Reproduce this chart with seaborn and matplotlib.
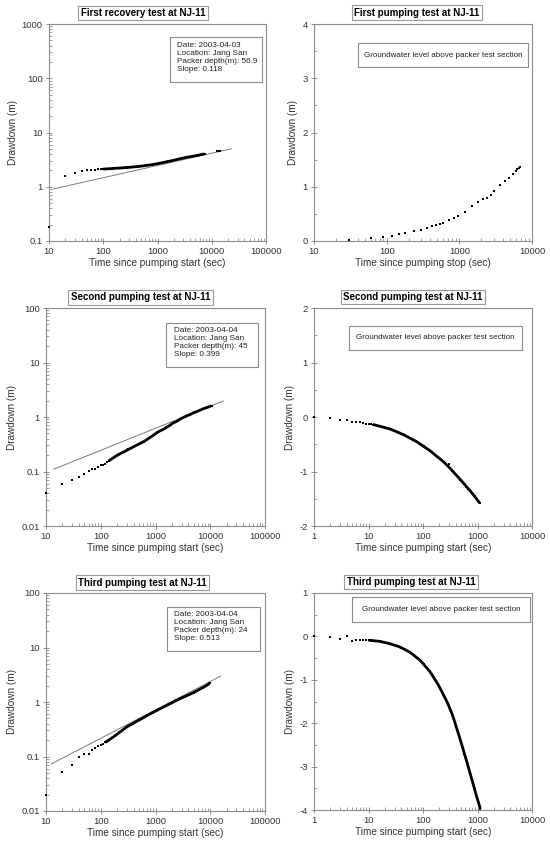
import matplotlib
matplotlib.use("Agg")
import matplotlib.pyplot as plt
import seaborn as sns
from matplotlib.ticker import FixedLocator, FuncFormatter, LogLocator, MultipleLocator, NullFormatter
from matplotlib.patches import Rectangle

# ---------------- data ----------------
titles = ["First recovery test at NJ-11", "First pumping test at NJ-11",
          "Second pumping test at NJ-11", "Second pumping test at NJ-11",
          "Third pumping test at NJ-11", "Third pumping test at NJ-11"]
xlabels = ["Time since pumping start (sec)", "Time since pumping stop (sec)",
           "Time since pumping start (sec)", "Time since pumping start (sec)",
           "Time since pumping start (sec)", "Time since pumping start (sec)"]
ylabel = "Drawdown (m)"
info1 = ["Date: 2003-04-03", "Location: Jang San", "Packer depth(m): 56.9", "Slope: 0.118"]
info3 = ["Date: 2003-04-04", "Location: Jang San", "Packer depth(m): 45", "Slope: 0.399"]
info5 = ["Date: 2003-04-04", "Location: Jang San", "Packer depth(m): 24", "Slope: 0.513"]
gw_note = "Groundwater level above packer test section"

t_rec1 = [10, 20, 30, 40, 50, 60, 70, 80, 90, 100, 110, 120, 130, 140, 150, 160, 180, 200, 220, 240,
          260, 280, 300, 330, 360, 400, 440, 480, 520, 570, 620, 680, 740, 800, 870, 950, 1030, 1120,
          1220, 1330, 1450, 1580, 1720, 1870, 2040, 2220, 2420, 2640, 2880, 3140, 3420, 3730, 4060,
          4420, 4820, 5250, 5720, 6230, 6790, 7400, 12400, 13000, 13600, 14200]
s_rec1 = [0.18, 1.61, 1.83, 1.95, 2.00, 2.03, 2.06, 2.08, 2.10, 2.12, 2.13, 2.14, 2.15, 2.16, 2.17, 2.18,
          2.20, 2.21, 2.23, 2.24, 2.26, 2.27, 2.28, 2.30, 2.32, 2.34, 2.36, 2.39, 2.41, 2.44, 2.47, 2.50,
          2.53, 2.56, 2.60, 2.64, 2.68, 2.73, 2.77, 2.82, 2.87, 2.93, 2.98, 3.04, 3.10, 3.16, 3.23, 3.29,
          3.36, 3.42, 3.48, 3.54, 3.59, 3.64, 3.70, 3.76, 3.83, 3.90, 3.97, 4.05, 4.48, 4.50, 4.50, 4.52]
dense_rec1 = (100, 7400)
fit1_t = [11.9, 22860]
fit1_s = [0.908, 5.0]

t_pump1 = [30, 60, 90, 120, 150, 180, 240, 300, 360, 420, 480, 540, 600, 720, 840, 960, 1200, 1500,
           1800, 2100, 2400, 2700, 3000, 3600, 4200, 4800, 5400, 6000, 6300, 6600, 6900]
s_pump1 = [0.025, 0.05, 0.08, 0.10, 0.12, 0.14, 0.19, 0.21, 0.245, 0.27, 0.29, 0.32, 0.34, 0.39, 0.43,
           0.47, 0.53, 0.64, 0.71, 0.77, 0.80, 0.85, 0.93, 1.03, 1.10, 1.17, 1.24, 1.29, 1.33, 1.34, 1.36]

t_pump2 = [10, 20, 30, 40, 50, 60, 70, 80, 90, 100, 110, 120, 130, 140, 150, 165, 180, 200, 220, 240,
           265, 290, 320, 350, 385, 420, 460, 510, 560, 610, 670, 740, 810, 890, 980, 1080, 1190, 1310,
           1440, 1580, 1740, 1910, 2100, 2310, 2540, 2800, 3080, 3390, 3730, 4100, 4510, 4960, 5460,
           6000, 6600, 7260, 7990, 8790, 9670, 10600]
s_pump2 = [0.04, 0.06, 0.069, 0.079, 0.089, 0.101, 0.109, 0.11, 0.122, 0.129, 0.133, 0.14, 0.151, 0.158,
           0.164, 0.175, 0.186, 0.198, 0.209, 0.219, 0.229, 0.241, 0.254, 0.266, 0.28, 0.293, 0.306,
           0.323, 0.339, 0.355, 0.375, 0.402, 0.427, 0.455, 0.486, 0.52, 0.553, 0.575, 0.605, 0.642,
           0.68, 0.725, 0.78, 0.81, 0.855, 0.91, 0.96, 1.005, 1.05, 1.09, 1.14, 1.20, 1.24, 1.29, 1.34,
           1.40, 1.45, 1.50, 1.55, 1.61]
dense_pump2 = (140, 10600)
fit2_t = [13.8, 17400]
fit2_s = [0.110, 1.97]

t_gw2 = [1, 2, 3, 4, 5, 6, 7, 8, 9, 10, 11, 12, 13, 14, 15, 16, 18, 20, 22, 24, 26, 28, 30, 33, 36, 40,
         44, 48, 52, 57, 62, 68, 74, 80, 87, 95, 103, 112, 122, 133, 145, 158, 172, 187, 204, 222, 242,
         264, 288, 314, 342, 373, 406, 443, 483, 527, 574, 626, 682, 744, 810, 884, 964, 1050, 1100]
s_gw2 = [0.0, -0.024, -0.05, -0.06, -0.085, -0.09, -0.10, -0.11, -0.12, -0.125, -0.132, -0.138, -0.145,
         -0.153, -0.161, -0.169, -0.182, -0.195, -0.206, -0.216, -0.228, -0.242, -0.254, -0.272, -0.287,
         -0.307, -0.325, -0.345, -0.364, -0.385, -0.404, -0.426, -0.445, -0.466, -0.491, -0.517, -0.541,
         -0.565, -0.590, -0.616, -0.645, -0.677, -0.707, -0.736, -0.767, -0.797, -0.829, -0.866, -0.903,
         -0.941, -0.982, -1.024, -1.065, -1.106, -1.148, -1.191, -1.233, -1.276, -1.318, -1.362, -1.408,
         -1.457, -1.506, -1.554, -1.58]
t_gw2_out = [300]
s_gw2_out = [-0.87]
dense_gw2 = (12, 1100)

t_pump3 = [10, 20, 30, 40, 50, 60, 70, 80, 90, 100, 110, 120, 130, 140, 150, 165, 180, 200, 220, 240,
           265, 290, 320, 350, 385, 420, 460, 510, 560, 610, 670, 740, 810, 890, 980, 1080, 1190, 1310,
           1440, 1580, 1740, 1910, 2100, 2310, 2540, 2800, 3080, 3390, 3730, 4100, 4510, 4960, 5460,
           6000, 6600, 7260, 7990, 8790, 9670, 10000]
s_pump3 = [0.02, 0.051, 0.071, 0.10, 0.112, 0.112, 0.133, 0.143, 0.153, 0.162, 0.172, 0.181, 0.19, 0.20,
           0.21, 0.224, 0.238, 0.258, 0.276, 0.295, 0.319, 0.342, 0.363, 0.382, 0.403, 0.423, 0.446,
           0.472, 0.497, 0.521, 0.55, 0.581, 0.61, 0.641, 0.676, 0.71, 0.746, 0.783, 0.822, 0.861, 0.904,
           0.948, 0.995, 1.045, 1.096, 1.151, 1.2, 1.253, 1.309, 1.365, 1.429, 1.493, 1.57, 1.652, 1.74,
           1.832, 1.928, 2.04, 2.19, 2.25]
dense_pump3 = (120, 9670)
fit3_t = [12.5, 15600]
fit3_s = [0.073, 3.0]

t_gw3 = [1, 2, 3, 4, 5, 6, 7, 8, 9, 10, 11, 12, 13, 14, 15, 16, 18, 20, 22, 24, 26, 28, 30, 33, 36, 40,
         44, 48, 52, 57, 62, 68, 74, 80, 87, 95, 103, 112, 122, 133, 145, 158, 172, 187, 204, 222, 242,
         264, 288, 314, 342, 373, 406, 443, 483, 527, 574, 626, 682, 744, 810, 884, 964, 1050, 1130]
s_gw3 = [0.0, -0.015, -0.07, 0.015, -0.106, -0.076, -0.076, -0.08, -0.08, -0.088, -0.093, -0.097, -0.102,
         -0.106, -0.110, -0.114, -0.127, -0.141, -0.153, -0.164, -0.177, -0.19, -0.202, -0.219, -0.235,
         -0.26, -0.287, -0.312, -0.336, -0.362, -0.396, -0.436, -0.472, -0.506, -0.543, -0.595, -0.645,
         -0.698, -0.752, -0.807, -0.877, -0.953, -1.027, -1.098, -1.186, -1.274, -1.367, -1.46, -1.56,
         -1.676, -1.79, -1.93, -2.08, -2.23, -2.38, -2.54, -2.70, -2.855, -3.02, -3.19, -3.35, -3.52,
         -3.69, -3.84, -3.98]
dense_gw3 = (10, 1130)

xt_a = [10, 100, 1000, 10000, 100000]
xt_b = [10, 100, 1000, 10000]
xt_c = [1, 10, 100, 1000, 10000]
yt_1 = [0.1, 1, 10, 100, 1000]
yt_2 = [0, 1, 2, 3, 4]
yt_3 = [0.01, 0.1, 1, 10, 100]
yt_4 = [-2, -1, 0, 1, 2]
yt_6 = [-4, -3, -2, -1, 0, 1]

# ---------------- style ----------------
sns.set_style("white")
plt.rcParams['font.family'] = ['Liberation Sans', 'DejaVu Sans']

W, H = 550, 844
fig = plt.figure(figsize=(W / 100, H / 100), dpi=100)
fig.patch.set_facecolor('white')

SPINE = '#8c8c8c'
TXT = '#333333'


def add_ax(l, t, r, b):
    return fig.add_axes([l / W, 1 - b / H, (r - l) / W, (b - t) / H])


fmt = FuncFormatter(lambda v, p: f"{v:g}")


def style(ax, xt, yt, ylog, xlabel):
    ax.set_xscale('log')
    ax.set_xlim(xt[0], xt[-1])
    ax.xaxis.set_major_locator(FixedLocator(xt))
    ax.xaxis.set_major_formatter(fmt)
    ax.xaxis.set_minor_locator(LogLocator(base=10, subs=range(2, 10), numticks=20))
    ax.xaxis.set_minor_formatter(NullFormatter())
    if ylog:
        ax.set_yscale('log')
        ax.yaxis.set_minor_locator(LogLocator(base=10, subs=range(2, 10), numticks=20))
        ax.yaxis.set_minor_formatter(NullFormatter())
    else:
        ax.yaxis.set_minor_locator(MultipleLocator(0.5))
    ax.set_ylim(yt[0], yt[-1])
    ax.yaxis.set_major_locator(FixedLocator(yt))
    ax.yaxis.set_major_formatter(fmt)
    for sp in ax.spines.values():
        sp.set_visible(True)
        sp.set_color(SPINE)
        sp.set_linewidth(0.8)
    ax.tick_params(which='major', direction='inout', length=5, width=0.7, color=SPINE,
                   labelsize=6.8, labelcolor=TXT, pad=2, left=True, bottom=True)
    ax.tick_params(which='minor', direction='in', length=2.5, width=0.6, color=SPINE,
                   left=True, bottom=True)
    ax.set_xlabel(xlabel, fontsize=7.2, color=TXT, labelpad=1)
    ax.set_ylabel(ylabel, fontsize=7.2, color=TXT, labelpad=3)
    ax.set_facecolor('white')


def pts(ax, t, s, dense=None):
    sns.scatterplot(x=t, y=s, ax=ax, marker='s', s=4, color='black', linewidth=0, legend=False,
                    clip_on=False, zorder=4)
    if dense is not None:
        sel = [(a, b) for a, b in zip(t, s) if dense[0] <= a <= dense[1]]
        sns.lineplot(x=[a for a, b in sel], y=[b for a, b in sel], ax=ax, color='black',
                     lw=2.0, sort=False, estimator=None, legend=False, zorder=4,
                     solid_capstyle='butt')


def fitline(ax, t, s):
    sns.lineplot(x=t, y=s, ax=ax, color='#7a7a7a', lw=0.7, legend=False)


def info(ax, x0, y0, x1, y1, tx, ty, lines):
    ax.add_patch(Rectangle((x0, y0), x1 - x0, y1 - y0, transform=ax.transAxes, fill=False,
                           ec='#8c8c8c', lw=0.8, zorder=5))
    ax.text(tx, ty, "\n".join(lines), transform=ax.transAxes, fontsize=5.9, va='top', ha='left',
            linespacing=1.2, color='#222222', zorder=6)


def note(ax, x0, y0, x1, y1):
    ax.add_patch(Rectangle((x0, y0), x1 - x0, y1 - y0, transform=ax.transAxes, fill=False,
                           ec='#8c8c8c', lw=0.8, zorder=5))
    ax.text((x0 + x1) / 2, (y0 + y1) / 2, gw_note, transform=ax.transAxes, fontsize=5.8,
            va='center', ha='center', color='#222222', zorder=6)


def title(cx, cy, text):
    fig.text(cx / W, 1 - cy / H, text, ha='center', va='center', fontsize=7, fontweight='bold',
             color='black',
             bbox=dict(boxstyle='square,pad=0.25', fc='white', ec='#999999', lw=0.8))


# Panel 1
ax1 = add_ax(49, 24, 266, 241)
pts(ax1, t_rec1, s_rec1, dense_rec1)
fitline(ax1, fit1_t, fit1_s)
style(ax1, xt_a, yt_1, True, xlabels[0])
info(ax1, 0.558, 0.733, 0.982, 0.94, 0.588, 0.915, info1)
title(143, 13, titles[0])

# Panel 2
ax2 = add_ax(314, 24, 532, 241)
pts(ax2, t_pump1, s_pump1)
style(ax2, xt_b, yt_2, False, xlabels[1])
note(ax2, 0.202, 0.802, 0.982, 0.912)
title(417, 12.5, titles[1])

# Panel 3
ax3 = add_ax(46, 308, 265, 526)
pts(ax3, t_pump2, s_pump2, dense_pump2)
fitline(ax3, fit2_t, fit2_s)
style(ax3, xt_a, yt_3, True, xlabels[2])
info(ax3, 0.547, 0.728, 0.967, 0.93, 0.584, 0.912, info3)
title(140.5, 297.5, titles[2])

# Panel 4
ax4 = add_ax(314, 308, 532, 526)
pts(ax4, t_gw2, s_gw2, dense_gw2)
pts(ax4, t_gw2_out, s_gw2_out)
style(ax4, xt_c, yt_4, False, xlabels[3])
note(ax4, 0.16, 0.807, 0.954, 0.919)
title(413, 297, titles[3])

# Panel 5
ax5 = add_ax(46, 593, 265, 811)
pts(ax5, t_pump3, s_pump3, dense_pump3)
fitline(ax5, fit3_t, fit3_s)
style(ax5, xt_a, yt_3, True, xlabels[4])
info(ax5, 0.551, 0.735, 0.977, 0.937, 0.584, 0.919, info5)
title(142.5, 582.5, titles[4])

# Panel 6
ax6 = add_ax(314, 593, 532, 810)
pts(ax6, t_gw3, s_gw3, dense_gw3)
style(ax6, xt_c, yt_6, False, xlabels[5])
note(ax6, 0.174, 0.868, 0.991, 0.983)
title(411, 582, titles[5])

fig.savefig("out.png", dpi=100, facecolor='white')
